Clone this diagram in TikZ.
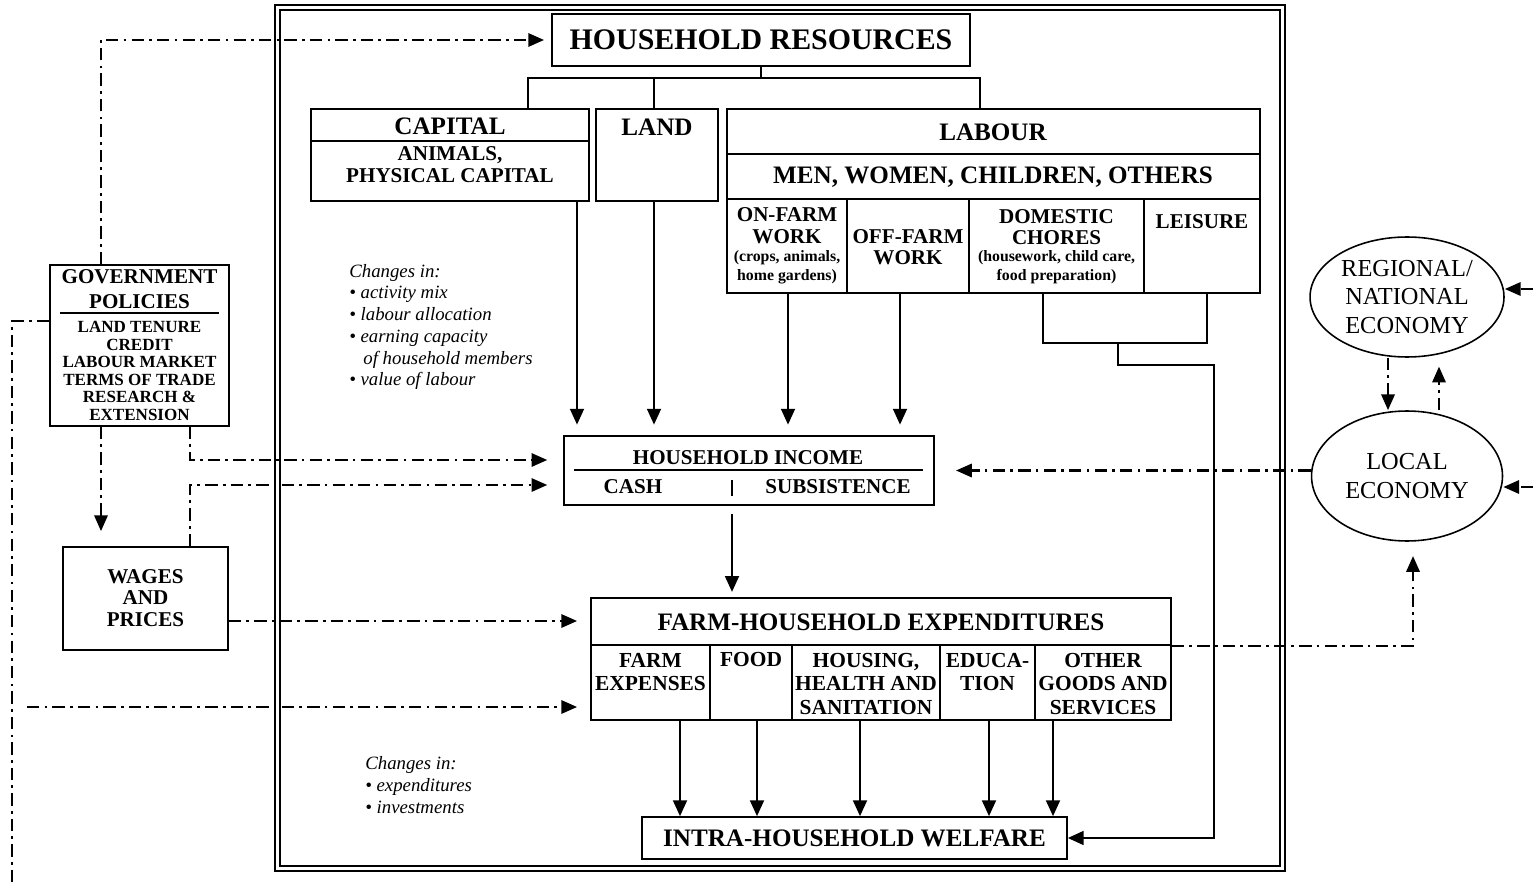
\documentclass[tikz,border=0pt]{standalone}
\usepackage{fontspec}
\setmainfont{Liberation Serif}
\usetikzlibrary{arrows.meta,fit,shapes.geometric}
\newcommand{\fsz}[2]{\fontsize{#1}{#2}\selectfont}
\begin{document}
\begin{tikzpicture}[x=0.02cm,y=-0.02cm,
  box/.style={draw,line width=1pt,inner sep=0pt},
  ln/.style={line width=0.9pt},
  arr/.style={line width=0.9pt,-{Triangle[length=9pt,width=8pt]}},
  dd/.style={line width=1.5pt,dash pattern=on 7pt off 3pt on 1.5pt off 3pt},
  ddarr/.style={dd,-{Triangle[length=9pt,width=7.5pt]}},
  txt/.style 2 args={inner sep=0pt,align=center,font=\bfseries\fsz{#1}{#2}},
  note/.style={inner sep=0pt,align=left,anchor=west,font=\itshape\fsz{10.7}{12.4}},
  eco/.style={draw,ellipse,line width=0.9pt,inner sep=0pt,align=center,font=\fsz{13.9}{16.4}}
]
\fill[white] (0,0) rectangle (1533,891);
\useasboundingbox (0,0) rectangle (1533,891);

% double frame
\node[draw,line width=0.8pt,inner sep=0pt,fit={(275,5) (1285,871)}] (frameo) {};
\node[draw,line width=0.8pt,inner sep=0pt,fit={(280,10) (1280,866)}] (framei) {};

% household resources
\node[box,fit={(552,14) (970,66)}] (hr) {};
\node[txt={17}{20}] (hrt) at (hr.center) {HOUSEHOLD RESOURCES};

% capital
\node[box,fit={(311,109) (589,201)}] (cap) {};
\draw[box] (cap.west |- 0,141) -- (cap.east |- 0,141);
\node[txt={14.3}{16}] (capt) at (450,126) {CAPITAL};
\node[txt={12}{12.5}] (caps) at (450,165) {ANIMALS,\\PHYSICAL CAPITAL};

% land
\node[box,fit={(596,109) (718,201)}] (land) {};
\node[txt={14.3}{16}] (landt) at (657,127) {LAND};

% labour
\node[box,fit={(727,109) (1260,293)}] (lab) {};
\draw[box] (lab.west |- 0,154) -- (lab.east |- 0,154);
\draw[box] (lab.west |- 0,199) -- (lab.east |- 0,199);
\foreach \x in {847,969,1144} \draw[box] (\x,199) -- (\x,293);
\node[txt={14.3}{16}] (labt) at (993,132) {LABOUR};
\node[txt={14.3}{16}] (labm) at (993,177) {MEN, WOMEN, CHILDREN, OTHERS};
\node[txt={12}{12.5}] (onf) at (787,226) {ON-FARM\\WORK};
\node[txt={9}{10.8}] (onfs) at (787,267.5) {(crops, animals,\\home gardens)};
\node[txt={12}{11.9}] (offf) at (908,247.5) {OFF-FARM\\WORK};
\node[txt={12}{11.9}] (dom) at (1056.5,227.5) {DOMESTIC\\CHORES};
\node[txt={9}{10.8}] (doms) at (1056.5,267.5) {(housework, child care,\\food preparation)};
\node[txt={12}{12}] (leis) at (1202,222) {LEISURE};

% household income
\node[box,fit={(564,436) (934,505)}] (inc) {};
\node[txt={12}{14}] (inct) at (748,458) {HOUSEHOLD INCOME};
\draw[ln] (574,470) -- (923,470);
\node[txt={12}{14}] (cash) at (633,487) {CASH};
\node[txt={12}{14}] (subs) at (838,487) {SUBSISTENCE};
\draw[line width=1.3pt] (732,480) -- (732,496);

% expenditures
\node[box,fit={(591,598) (1171,720)}] (exp) {};
\node[box,fit={(591,598) (1171,645)}] (expt) {};
\foreach \x in {710,792,940,1035} \draw[box] (\x,645) -- (\x,720);
\node[txt={14.3}{16}] (exptt) at (881,622) {FARM-HOUSEHOLD EXPENDITURES};
\node[txt={12.2}{13.6}] (e1) at (650.5,672) {FARM\\EXPENSES};
\node[txt={12.2}{13.6}] (e2) at (751,660) {FOOD};
\node[txt={12.2}{13.6}] (e3) at (866,684) {HOUSING,\\HEALTH AND\\SANITATION};
\node[txt={12.2}{13.6}] (e4) at (987.5,672) {EDUCA-\\TION};
\node[txt={12.2}{13.6}] (e5) at (1103,684) {OTHER\\GOODS AND\\SERVICES};

% welfare
\node[box,fit={(642,817) (1067,859)}] (wel) {};
\node[txt={14.3}{16}] (welt) at (wel.center) {INTRA-HOUSEHOLD WELFARE};

% government policies
\node[box,fit={(50,265) (229,426)}] (gov) {};
\node[txt={12}{14.2}] (govt) at (139.5,289.5) {GOVERNMENT\\POLICIES};
\draw[ln] (60,313) -- (219,313);
\node[txt={9.7}{10}] (govi) at (139.5,371) {LAND TENURE\\CREDIT\\LABOUR MARKET\\TERMS OF TRADE\\RESEARCH \&\\EXTENSION};

% wages and prices
\node[box,fit={(63,547) (228,650)}] (wag) {};
\node[txt={12}{12.2}] (wagt) at (145.5,598) {WAGES\\AND\\PRICES};

% economies
\node[eco,minimum width=3.88cm,minimum height=2.4cm] (reg) at (1407,297) {REGIONAL/\\NATIONAL\\ECONOMY};
\node[eco,minimum width=3.82cm,minimum height=2.6cm] (loc) at (1407,476) {LOCAL\\ECONOMY};

% notes
\node[note] (note1) at (349,327) {Changes in:\\\textbullet\ activity mix\\\textbullet\ labour allocation\\\textbullet\ earning capacity\\\hspace*{8pt}of household members\\\textbullet\ value of labour};
\node[note] (note2) at (365,785) {Changes in:\\\textbullet\ expenditures\\\textbullet\ investments};

% resource bracket
\draw[ln] (hr.south) -- (hr.south |- 0,78);
\draw[ln] (528,0 |- cap.north) |- (980,78) -- (980,0 |- lab.north);
\draw[ln] (654,78) -- (654,0 |- land.north);

% resources -> income
\draw[arr,shorten >=6pt] (577,0 |- cap.south) -- (577,0 |- inc.north);
\draw[arr,shorten >=6pt] (654,0 |- land.south) -- (654,0 |- inc.north);
\draw[arr,shorten >=6pt] (788,0 |- lab.south) -- (788,0 |- inc.north);
\draw[arr,shorten >=6pt] (900,0 |- lab.south) -- (900,0 |- inc.north);

% domestic / leisure -> welfare
\draw[ln] (1043,0 |- lab.south) |- (1207,343) -- (1207,0 |- lab.south);
\coordinate (dl) at (1118,343);
\draw[arr] (dl) -- (1118,365) -- (1214,365) |- (wel.east);

% income -> expenditures
\draw[arr,shorten <=4.5pt,shorten >=3pt] (732,0 |- inc.south) -- (732,0 |- exp.north);

% expenditures -> welfare
\foreach \x in {680,757,860,989,1053}
  \draw[arr] (\x,0 |- exp.south) -- (\x,0 |- wel.north);

% dash-dot connectors
\draw[ddarr,shorten >=4pt] (101,0 |- gov.north) |- (hr.west);
\draw[ddarr,shorten >=8.5pt] (101,0 |- gov.south) -- (101,0 |- wag.north);
\draw[ddarr,shorten >=9pt] (190,0 |- gov.south) |- (inc.west |- 0,460);
\draw[ddarr,shorten >=9pt] (190,0 |- wag.north) |- (inc.west |- 0,485);
\draw[ddarr,shorten >=7.4pt] (wag.east |- 0,621) -- (exp.west |- 0,621);
\coordinate (lbot) at (12,885);
\draw[dd] (gov.west |- 0,321) -| (lbot);
\coordinate (lmid) at (27,707);
\draw[ddarr,shorten >=7.4pt] (lmid) -- (exp.west |- 0,707);
\coordinate (locin) at (1413,556);
\draw[ddarr] (expt.south east) -| (locin);
\draw[ddarr,shorten >=12pt] (inc.east -| loc.west) -- (inc.east);
\draw[ddarr] (1388,0 |- reg.south) -- (1388,0 |- loc.north);
\draw[ddarr,shorten >=5pt] (1439,0 |- loc.north) -- (1439,0 |- reg.south);
\coordinate (rin) at (1533,289);
\draw[ddarr] (rin) -- (reg.east |- rin);
\coordinate (lin) at (1533,487);
\draw[ddarr] (lin) -- (loc.east |- lin);
\end{tikzpicture}
\end{document}
